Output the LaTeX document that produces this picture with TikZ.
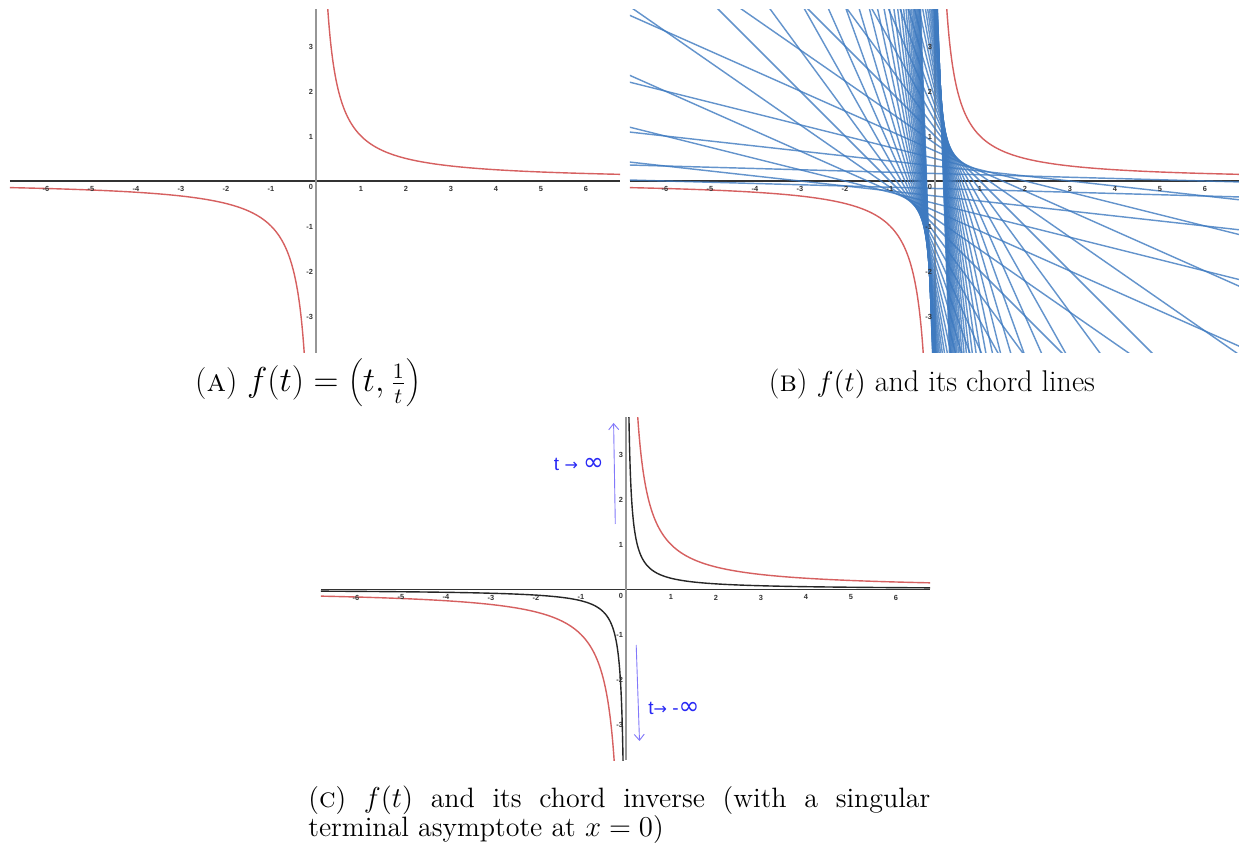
\documentclass[tikz,border=0pt]{standalone}
\usepackage{fontspec}
\newfontfamily\lab{Liberation Sans}
\newfontfamily\djv{DejaVu Sans}
\usetikzlibrary{arrows.meta}
\definecolor{redc}{RGB}{214,96,96}
\definecolor{chordc}{RGB}{62,122,192}
\definecolor{axgray}{RGB}{150,150,150}
\definecolor{arrc}{RGB}{130,120,250}
\definecolor{txtblue}{RGB}{40,40,245}
\tikzset{
  redcurve/.style={draw=redc, line width=0.7pt},
  blackcurve/.style={draw=black!85, line width=0.7pt},
  yaxis/.style={draw=axgray, line width=1pt},
  xaxis/.style={draw=black!80, line width=0.7pt},
  chord/.style={draw=chordc, line width=0.72pt, opacity=0.8},
  ticklab/.style={font=\lab\bfseries\fontsize{3.7}{4}\selectfont, inner sep=0pt, text=black!80},
  caption/.style={font=\fontsize{15}{15.5}\selectfont, inner sep=0pt},
  limarrow/.style={draw=arrc, line width=0.45pt, -{Straight Barb[length=3pt,width=5pt]}},
  limlab/.style={text=txtblue, font=\lab\fontsize{9.5}{11}\selectfont, inner sep=0pt},
}
\newcommand\myticks[1]{%
  \foreach \k in {-6,...,-1,1,2,...,6}{\node[ticklab, anchor=north] (#1x\k) at (\k,-0.11) {\k};}
  \foreach \k in {-3,-2,-1,1,2,3}{\node[ticklab, anchor=east] (#1y\k) at (-0.06,\k-0.02) {\k};}
  \node[ticklab, anchor=north east] (#1o) at (-0.06,-0.07) {0};
}
\begin{document}
\begin{tikzpicture}[x=0.5pt,y=-0.5pt]
\useasboundingbox (0,0) rectangle (1239,844);
\fill[white] (0,0) rectangle (1239,844);

% ---------- Panel A ----------
\begin{scope}[shift={(158pt,-90.5pt)}, x=22.5pt, y=22.5pt]
  \clip (-6.8,-3.822) rectangle (6.756,3.822);
  \draw[xaxis] (-6.8,0) -- (6.756,0);
  \draw[yaxis] (0,-3.822) -- (0,3.822);
  \draw[redcurve] plot[domain=-1.45:2.0, samples=150, smooth] ({exp(\x)},{exp(-\x)});
  \draw[redcurve] plot[domain=-1.45:2.0, samples=150, smooth] ({-exp(\x)},{-exp(-\x)});
  \myticks{a}
\end{scope}

% ---------- Panel B ----------
\begin{scope}[shift={(467.5pt,-90.5pt)}, x=22.5pt, y=22.5pt]
  \clip (-6.778,-3.822) rectangle (6.756,3.822);
  \draw[xaxis] (-6.778,0) -- (6.756,0);
  \draw[yaxis] (0,-3.822) -- (0,3.822);
  \foreach \n in {1,...,32}{
    \pgfmathsetmacro\tv{6/\n}
    \pgfmathsetmacro\xa{\tv-4*\tv*\tv}
    \pgfmathsetmacro\xb{\tv+4*\tv*\tv}
    \draw[chord] (\xa,4) -- (\xb,-4);
    \draw[chord] ({-\xb},4) -- ({-\xa},-4);
  }
  \draw[redcurve] plot[domain=-1.45:2.0, samples=150, smooth] ({exp(\x)},{exp(-\x)});
  \draw[redcurve] plot[domain=-1.45:2.0, samples=150, smooth] ({-exp(\x)},{-exp(-\x)});
  \myticks{b}
\end{scope}

% ---------- Panel C ----------
\begin{scope}[shift={(313pt,-294.75pt)}, x=22.5pt, y=22.5pt]
  \clip (-6.778,-3.789) rectangle (6.756,3.833);
  \draw[xaxis] (-6.778,0) -- (6.756,0);
  \draw[yaxis] (0,-3.789) -- (0,3.833);
  \draw[redcurve] plot[domain=-1.45:2.0, samples=150, smooth] ({exp(\x)},{exp(-\x)});
  \draw[redcurve] plot[domain=-1.45:2.0, samples=150, smooth] ({-exp(\x)},{-exp(-\x)});
  \draw[blackcurve] plot[domain=-2.3:2.7, samples=200, smooth] ({0.5*exp(\x)},{0.5*exp(-\x)});
  \draw[blackcurve] plot[domain=-2.3:2.7, samples=200, smooth] ({-0.5*exp(\x)},{-0.5*exp(-\x)});
  \myticks{c}
\end{scope}

% limit arrows and labels in panel C
\coordinate (upS) at (615.3,524);
\coordinate (upE) at (613.6,423);
\coordinate (dnS) at (636.2,645);
\coordinate (dnE) at (639.5,741);
\draw[limarrow] (upS) -- (upE);
\draw[limarrow] (dnS) -- (dnE);
\node[limlab] (tinf) at (579,464) {t {\djv\fontsize{8}{9}\selectfont→} {\djv\fontsize{12.5}{13}\selectfont ∞}};
\node[limlab] (tminf) at (674,708) {t{\djv\fontsize{8}{9}\selectfont→} -{\djv\fontsize{12.5}{13}\selectfont ∞}};

% captions
\node[caption, font=\fontsize{16}{17}\selectfont] (capA) at (308,383) {(\textsc{a}) $f(t) = \left(t, \frac{1}{t}\right)$};
\node[caption] (capB) at (932,384) {(\textsc{b}) $f(t)$ and its chord lines};
\node[caption, font=\fontsize{14}{14.5}\selectfont, anchor=north west, text width=311pt, align=justify] (capC) at (308,786)
  {(\textsc{c}) $f(t)$ and its chord inverse (with a singular\linebreak terminal asymptote at $x=0$)};
\end{tikzpicture}
\end{document}
